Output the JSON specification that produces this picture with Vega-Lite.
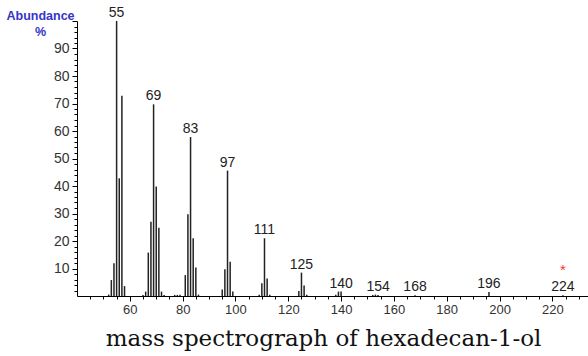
{
  "$schema": "https://vega.github.io/schema/vega-lite/v6.json",
  "width": 511,
  "height": 275,
  "autosize": {"type": "none"},
  "padding": {"left": 77, "top": 21, "right": 0, "bottom": 60},
  "background": "white",
  "config": {"view": {"stroke": null}},
  "title": {
    "text": "mass spectrograph of hexadecan-1-ol",
    "orient": "bottom",
    "anchor": "middle",
    "frame": "group",
    "font": "DejaVu Serif",
    "fontSize": 23,
    "fontWeight": "normal",
    "color": "#111",
    "dx": -9,
    "offset": 12
  },
  "data": {
    "values": [
      {"mz": 52, "ab": 0.5, "label": ""},
      {"mz": 53, "ab": 5.8, "label": ""},
      {"mz": 54, "ab": 11.9, "label": ""},
      {"mz": 55, "ab": 100, "label": "55"},
      {"mz": 56, "ab": 42.8, "label": ""},
      {"mz": 57, "ab": 72.8, "label": ""},
      {"mz": 58, "ab": 3.6, "label": ""},
      {"mz": 65, "ab": 0.4, "label": ""},
      {"mz": 66, "ab": 1.6, "label": ""},
      {"mz": 67, "ab": 15.8, "label": ""},
      {"mz": 68, "ab": 27, "label": ""},
      {"mz": 69, "ab": 69.7, "label": "69"},
      {"mz": 70, "ab": 39.8, "label": ""},
      {"mz": 71, "ab": 24.8, "label": ""},
      {"mz": 72, "ab": 1.6, "label": ""},
      {"mz": 73, "ab": 0.4, "label": ""},
      {"mz": 77, "ab": 0.4, "label": ""},
      {"mz": 78, "ab": 0.4, "label": ""},
      {"mz": 79, "ab": 0.5, "label": ""},
      {"mz": 81, "ab": 7.6, "label": ""},
      {"mz": 82, "ab": 29.7, "label": ""},
      {"mz": 83, "ab": 57.8, "label": "83"},
      {"mz": 84, "ab": 21, "label": ""},
      {"mz": 85, "ab": 10.4, "label": ""},
      {"mz": 86, "ab": 0.5, "label": ""},
      {"mz": 95, "ab": 2.4, "label": ""},
      {"mz": 96, "ab": 9.7, "label": ""},
      {"mz": 97, "ab": 45.6, "label": "97"},
      {"mz": 98, "ab": 12.5, "label": ""},
      {"mz": 99, "ab": 1.6, "label": ""},
      {"mz": 109, "ab": 0.5, "label": ""},
      {"mz": 110, "ab": 4.6, "label": ""},
      {"mz": 111, "ab": 21, "label": "111"},
      {"mz": 112, "ab": 6.4, "label": ""},
      {"mz": 113, "ab": 0.5, "label": ""},
      {"mz": 124, "ab": 1.8, "label": ""},
      {"mz": 125, "ab": 8.5, "label": "125"},
      {"mz": 126, "ab": 3.8, "label": ""},
      {"mz": 127, "ab": 0.5, "label": ""},
      {"mz": 138, "ab": 0.5, "label": ""},
      {"mz": 139, "ab": 1.6, "label": ""},
      {"mz": 140, "ab": 1.6, "label": "140"},
      {"mz": 152, "ab": 0.4, "label": ""},
      {"mz": 153, "ab": 0.5, "label": ""},
      {"mz": 154, "ab": 0.4, "label": "154"},
      {"mz": 168, "ab": 0.3, "label": "168"},
      {"mz": 196, "ab": 1.5, "label": "196"},
      {"mz": 224, "ab": 0.3, "label": "224", "star": "*"}
    ]
  },
  "encoding": {
    "x": {
      "field": "mz",
      "type": "quantitative",
      "scale": {"domain": [40, 233.5], "nice": false, "zero": false},
      "axis": {
        "title": null,
        "values": [45,50,55,60,65,70,75,80,85,90,95,100,105,110,115,120,125,130,135,140,145,150,155,160,165,170,175,180,185,190,195,200,205,210,215,220,225,230],
        "labelExpr": "datum.value % 20 === 0 ? datum.label : ''",
        "labelFont": "Liberation Sans",
        "labelFontSize": 13,
        "labelColor": "#333",
        "labelPadding": 2,
        "labelOverlap": false,
        "tickSize": {"condition": {"test": "datum.value % 20 === 0", "value": 5}, "value": 3},
        "tickColor": "#000",
        "domainColor": "#000",
        "grid": false
      }
    },
    "y": {
      "field": "ab",
      "type": "quantitative",
      "scale": {"domain": [0, 100], "nice": false},
      "axis": {
        "title": ["Abundance", "%"],
        "titleAngle": 0,
        "titleAlign": "center",
        "titleBaseline": "alphabetic",
        "titleX": -37,
        "titleY": -2,
        "titleFont": "Liberation Sans",
        "titleFontSize": 12.5,
        "titleFontWeight": "bold",
        "titleColor": "#3535c8",
        "titleLineHeight": 16,
        "values": [2,4,6,8,10,12,14,16,18,20,22,24,26,28,30,32,34,36,38,40,42,44,46,48,50,52,54,56,58,60,62,64,66,68,70,72,74,76,78,80,82,84,86,88,90,92,94,96,98,100],
        "labelExpr": "datum.value % 10 === 0 && datum.value < 100 ? datum.label : ''",
        "labelFont": "Liberation Sans",
        "labelFontSize": 14,
        "labelColor": "#333",
        "labelPadding": 3,
        "labelOverlap": false,
        "tickSize": {"condition": {"test": "datum.value % 10 === 0", "value": 5}, "value": 3},
        "tickColor": "#000",
        "domainColor": "#000",
        "grid": false
      }
    }
  },
  "layer": [
    {
      "mark": {"type": "rule", "color": "#222", "strokeWidth": 1.5},
      "encoding": {
        "y2": {"datum": 0}
      }
    },
    {
      "mark": {"type": "text", "baseline": "alphabetic", "dy": -4, "font": "Liberation Sans", "fontSize": 14, "color": "#222"},
      "encoding": {
        "text": {"field": "label"}
      }
    },
    {
      "transform": [{"filter": "datum.star"}],
      "mark": {"type": "text", "baseline": "alphabetic", "dy": -20, "font": "Liberation Sans", "fontSize": 15, "color": "#ff3030"},
      "encoding": {
        "text": {"field": "star"}
      }
    }
  ]
}
